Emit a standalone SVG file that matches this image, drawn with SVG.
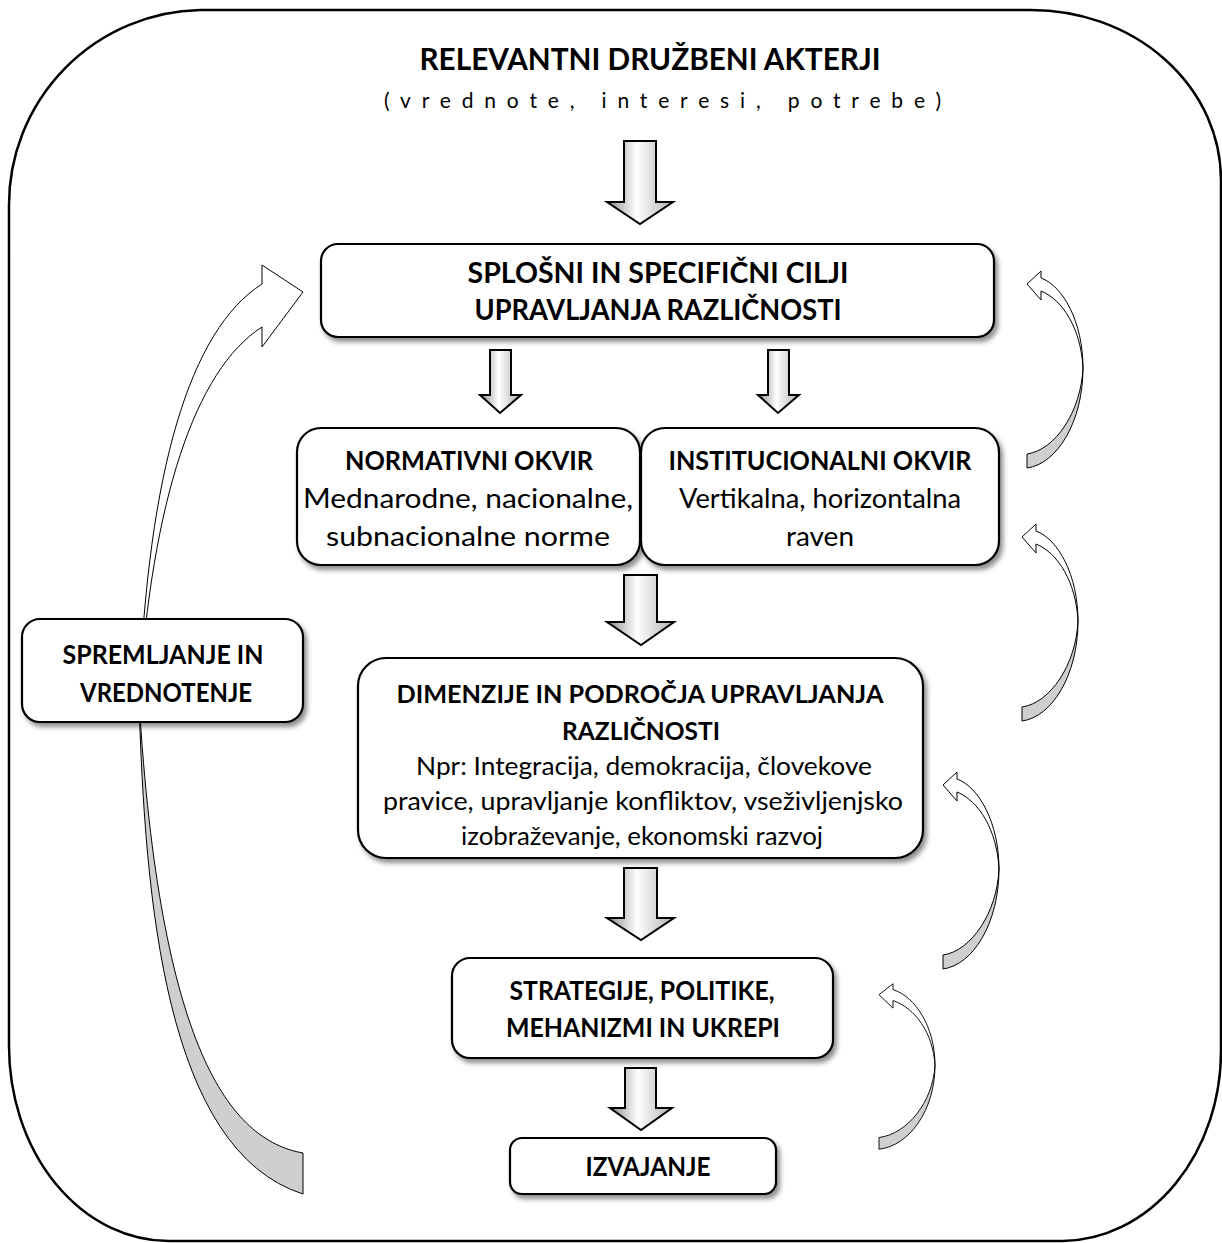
<svg xmlns="http://www.w3.org/2000/svg" width="1222" height="1243" viewBox="0 0 1222 1243">
<style>
.box{fill:#fff;stroke:#000;stroke-width:2.2;filter:url(#sh)}
.b{font-family:Lato,"Noto Sans",sans-serif;font-weight:bold;fill:#000;text-anchor:middle}
.r{font-family:Lato,"Noto Sans",sans-serif;fill:#000;text-anchor:middle}
.ba{fill:url(#g);stroke:#000;stroke-width:2;stroke-linejoin:miter}
.cw{fill:#fff;stroke:#000;stroke-width:1}
.cg{fill:#cfcfcf;stroke:#000;stroke-width:1}
</style>
<defs>
<filter id="sh" x="-10%" y="-10%" width="125%" height="130%">
<feDropShadow dx="3" dy="4" stdDeviation="2.5" flood-color="#000" flood-opacity="0.45"/>
</filter>
<linearGradient id="g" x1="0" y1="0" x2="1" y2="0">
<stop offset="0" stop-color="#8a8a8a"/>
<stop offset="0.45" stop-color="#ffffff"/>
<stop offset="1" stop-color="#b0b0b0"/>
</linearGradient>
<g id="carrow">
<path class="cw" d="M14,-4 C36,4 56,40 56,86 C54,47 36,18 14,9 L14,18 L0,2 L14,-11 Z"/>
<path class="cg" d="M56,86 C56,140 30,182 0,186 L0,172 C28,168 54,130 56,86 Z"/>
</g>
</defs>
<rect width="1222" height="1243" fill="#fff"/>
<path d="M200,10 H1030 A190,170 0 0 1 1221,180 V1050 A160,190 0 0 1 1063,1241 H170 A160,195 0 0 1 9,1045 V205 A195,195 0 0 1 200,10 Z" fill="none" stroke="#000" stroke-width="2.5"/>

<g id="title">
<text class="b" x="650" y="70" font-size="31" textLength="461" lengthAdjust="spacingAndGlyphs">RELEVANTNI DRUŽBENI AKTERJI</text>
<text class="r" x="384" y="108" font-size="21" textLength="557" lengthAdjust="spacing" style="text-anchor:start">(vrednote, interesi, potrebe)</text>
</g>

<g id="connectors">
<path class="ba" d="M624,141 H656 V202 H673 L640,224 L607,202 H624 Z"/>
<path class="ba" d="M490,350 H511 V395 H521 L500,413 L480,395 H490 Z"/>
<path class="ba" d="M768,350 H789 V395 H799 L778,413 L758,395 H768 Z"/>
<path class="ba" d="M624,575 H657 V622 H674 L641,645 L607,622 H624 Z"/>
<path class="ba" d="M624,868 H657 V918 H674 L641,940 L607,918 H624 Z"/>
<path class="ba" d="M625,1068 H656 V1108 H672 L641,1130 L610,1108 H625 Z"/>
<use href="#carrow" transform="translate(1027,282)"/>
<use href="#carrow" transform="translate(1022,535)"/>
<use href="#carrow" transform="translate(943,783)"/>
<use href="#carrow" transform="translate(879,993) scale(1,0.84)"/>
<path class="cw" d="M262,284 C190,330 148,470 139,700 C152,500 195,370 262,327 L262,347 L303,292 L262,265 Z"/>
<path class="cg" d="M139,700 C145,900 165,1150 303,1194 L303,1153 C230,1140 160,1050 139,700 Z"/>
</g>

<g id="n-cilji">
<rect class="box" x="321" y="244" width="673" height="93" rx="17"/>
<text class="b" x="658" y="283" font-size="28" textLength="381" lengthAdjust="spacingAndGlyphs">SPLOŠNI IN SPECIFIČNI CILJI</text>
<text class="b" x="658" y="320" font-size="28" textLength="367" lengthAdjust="spacingAndGlyphs">UPRAVLJANJA RAZLIČNOSTI</text>
</g>

<g id="n-normativni">
<rect class="box" x="297" y="428" width="343" height="137" rx="24"/>
<text class="b" x="469" y="470" font-size="26" textLength="248" lengthAdjust="spacingAndGlyphs">NORMATIVNI OKVIR</text>
<text class="r" x="468" y="508" font-size="26" textLength="330" lengthAdjust="spacingAndGlyphs">Mednarodne, nacionalne,</text>
<text class="r" x="468" y="546" font-size="26" textLength="284" lengthAdjust="spacingAndGlyphs">subnacionalne norme</text>
</g>

<g id="n-institucionalni">
<rect class="box" x="641" y="428" width="358" height="137" rx="24"/>
<text class="b" x="820" y="470" font-size="26" textLength="303" lengthAdjust="spacingAndGlyphs">INSTITUCIONALNI OKVIR</text>
<text class="r" x="820" y="508" font-size="26" textLength="282" lengthAdjust="spacingAndGlyphs">Vertikalna, horizontalna</text>
<text class="r" x="820" y="546" font-size="26" textLength="68" lengthAdjust="spacingAndGlyphs">raven</text>
</g>

<g id="n-dimenzije">
<rect class="box" x="358" y="658" width="565" height="200" rx="28"/>
<text class="b" x="640" y="703" font-size="25" textLength="487" lengthAdjust="spacingAndGlyphs">DIMENZIJE IN PODROČJA UPRAVLJANJA</text>
<text class="b" x="641" y="740" font-size="25" textLength="158" lengthAdjust="spacingAndGlyphs">RAZLIČNOSTI</text>
<text class="r" x="644" y="775" font-size="25" textLength="456" lengthAdjust="spacingAndGlyphs">Npr: Integracija, demokracija, človekove</text>
<text class="r" x="643" y="810" font-size="25" textLength="520" lengthAdjust="spacingAndGlyphs">pravice, upravljanje konfliktov, vseživljenjsko</text>
<text class="r" x="642" y="845" font-size="25" textLength="362" lengthAdjust="spacingAndGlyphs">izobraževanje, ekonomski razvoj</text>
</g>

<g id="n-strategije">
<rect class="box" x="452" y="958" width="381" height="100" rx="18"/>
<text class="b" x="642" y="1000" font-size="26" textLength="265" lengthAdjust="spacingAndGlyphs">STRATEGIJE, POLITIKE,</text>
<text class="b" x="643" y="1037" font-size="26" textLength="274" lengthAdjust="spacingAndGlyphs">MEHANIZMI IN UKREPI</text>
</g>

<g id="n-izvajanje">
<rect class="box" x="510" y="1138" width="266" height="56" rx="12"/>
<text class="b" x="648" y="1176" font-size="26" textLength="125" lengthAdjust="spacingAndGlyphs">IZVAJANJE</text>
</g>

<g id="n-spremljanje">
<rect class="box" x="22" y="619" width="281" height="103" rx="18"/>
<text class="b" x="163" y="664" font-size="26" textLength="201" lengthAdjust="spacingAndGlyphs">SPREMLJANJE IN</text>
<text class="b" x="166" y="702" font-size="26" textLength="172" lengthAdjust="spacingAndGlyphs">VREDNOTENJE</text>
</g>
</svg>
